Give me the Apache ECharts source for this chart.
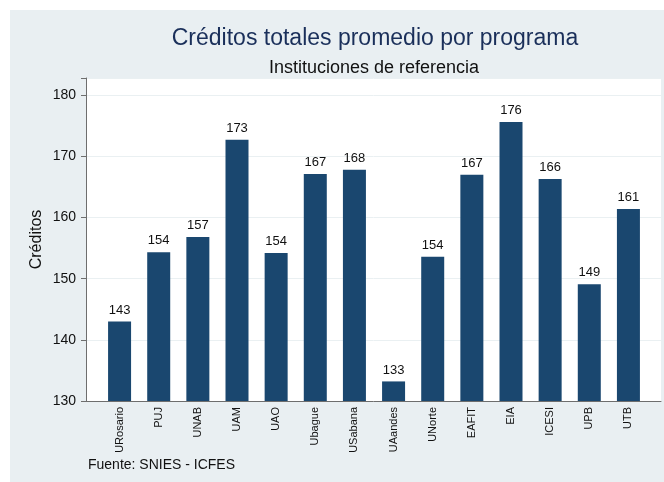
<!DOCTYPE html>
<html><head><meta charset="utf-8">
<script src="https://cdn.jsdelivr.net/npm/echarts@6/dist/echarts.min.js"></script>
<style>html,body{margin:0;padding:0;background:#fff}#c{width:664px;height:482px}</style>
</head><body><div id="c"></div>
<script>
const categories = ['URosario','PUJ','UNAB','UAM','UAO','Ubague','USabana','UAandes','UNorte','EAFIT','EIA','ICESI','UPB','UTB'];
const credits = [143.0,154.3,156.8,172.7,154.2,167.1,167.8,133.2,153.6,167.0,175.6,166.3,149.1,161.4];
const yTicks = [130,140,150,160,170,180];
const titleText = 'Créditos totales promedio por programa';
const subtitleText = 'Instituciones de referencia';
const yName = 'Créditos';
const sourceText = 'Fuente: SNIES - ICFES';

const font = 'Liberation Sans, Arial, Helvetica, sans-serif';
const chart = echarts.init(document.getElementById('c'), null, {renderer:'canvas'});
const yMin = yTicks[0], yMax = 182.8;
chart.setOption({
  backgroundColor: '#ffffff',
  animation: false,
  graphic: [
    {type:'rect', z:-10, shape:{x:10,y:10,width:654,height:472}, style:{fill:'#e9eff2'}},
    {type:'text', left:88, top:458, style:{text:sourceText, font:'14px '+font, fill:'#111'}}
  ],
  title: [
    {text:titleText, left:370, top:22, textAlign:'center', textStyle:{fontFamily:font, fontSize:23, fontWeight:'normal', color:'#1a2f5a'}},
    {text:subtitleText, left:369, top:54, textAlign:'center', textStyle:{fontFamily:font, fontSize:18, fontWeight:'normal', color:'#111'}}
  ],
  grid: [
    {left:86, right:3, top:78, bottom:81, show:true, backgroundColor:'#ffffff', borderWidth:0},
    {left:100, right:16, top:78, bottom:81}
  ],
  xAxis: [
    {gridIndex:0, type:'value', min:0, max:1, axisLine:{show:true, lineStyle:{color:'#6e6e6e', width:1}}, axisTick:{show:false}, axisLabel:{show:false}, splitLine:{show:false}},
    {gridIndex:1, type:'category', data:categories, axisLine:{show:false}, axisTick:{show:false},
     axisLabel:{rotate:90, interval:0, fontFamily:font, fontSize:11, color:'#111', margin:6}}
  ],
  yAxis: [
    {gridIndex:0, type:'value', min:yMin, max:yMax, interval:10,
     name:yName, nameLocation:'middle', nameGap:41, nameMoveOverlap:false, nameTextStyle:{fontFamily:font, fontSize:16, color:'#111'},
     axisLine:{show:true, lineStyle:{color:'#6e6e6e'}}, axisTick:{show:true, length:5, lineStyle:{color:'#6e6e6e'}},
     axisLabel:{fontFamily:font, fontSize:14, color:'#111', margin:10, formatter:v=>yTicks.includes(v)?String(v):''},
     splitLine:{show:true, lineStyle:{color:'#eaf0f2', width:1}}},
    {gridIndex:1, type:'value', min:yMin, max:yMax, show:false, splitLine:{show:false}}
  ],
  series: [{
    type:'bar', xAxisIndex:1, yAxisIndex:1, data:credits, barWidth:23,
    itemStyle:{color:'#1a476f'},
    label:{show:true, position:'top', distance:5, fontFamily:font, fontSize:13, color:'#111', formatter:p=>Math.round(p.value)}
  }]
});
</script></body></html>
